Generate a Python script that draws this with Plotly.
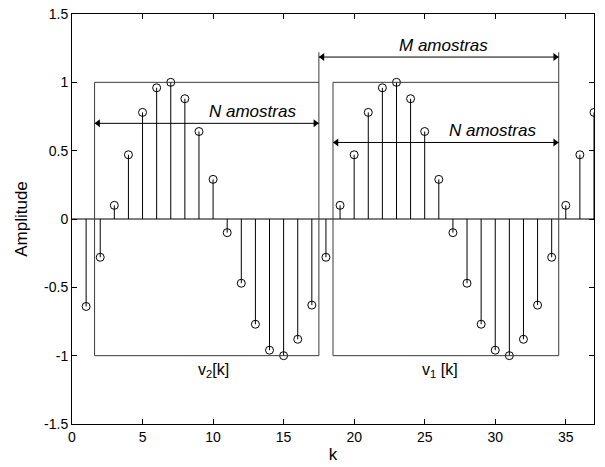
import plotly.graph_objects as go

k = list(range(1, 38))
amplitude = [-0.64, -0.28, 0.10, 0.47, 0.78, 0.96, 1.00, 0.88, 0.64, 0.29,
             -0.10, -0.47, -0.77, -0.96, -1.00, -0.88, -0.63, -0.28, 0.10, 0.47,
             0.78, 0.96, 1.00, 0.88, 0.64, 0.29, -0.10, -0.47, -0.77, -0.96,
             -1.00, -0.88, -0.63, -0.28, 0.10, 0.47, 0.78]
x_ticks = [0, 5, 10, 15, 20, 25, 30, 35]
y_ticks = [-1.5, -1, -0.5, 0, 0.5, 1, 1.5]
y_tick_labels = ["-1.5", "-1", "-0.5", "0", "0.5", "1", "1.5"]

# Window boxes (k ranges)
v2_box = (1.6, 17.5)
v1_box = (18.5, 34.5)

FONT = "Liberation Sans, Arial"

stem_x, stem_y = [], []
for kk, a in zip(k, amplitude):
    stem_x += [kk, kk, None]
    stem_y += [0, a, None]

fig = go.Figure()
fig.add_trace(go.Scatter(x=stem_x, y=stem_y, mode="lines",
                         line=dict(color="black", width=1), hoverinfo="skip"))
fig.add_trace(go.Scatter(x=k, y=amplitude, mode="markers",
                         marker=dict(symbol="circle-open", size=8,
                                     color="black", line=dict(width=1))))

gray = "#3a3a3a"
def seg(x0, x1, y0, y1, color=gray):
    return dict(type="line", x0=x0, x1=x1, y0=y0, y1=y1, line=dict(color=color, width=1))

shapes = [
    seg(0, 37, 0, 0, "black"),
    seg(v2_box[0], v2_box[0], -1, 1),
    seg(v2_box[0], v2_box[1], 1, 1),
    seg(v2_box[0], v2_box[1], -1, -1),
    seg(v2_box[1], v2_box[1], -1, 1.22),
    seg(v1_box[0], v1_box[0], -1, 1),
    seg(v1_box[0], v1_box[1], 1, 1),
    seg(v1_box[0], v1_box[1], -1, -1),
    seg(v1_box[1], v1_box[1], -1, 1.22),
]

# double-headed arrows: line shapes + triangle markers at the ends
arrows = [(v2_box[0], v2_box[1], 0.70), (v1_box[0], v1_box[1], 0.56),
          (v2_box[1], v1_box[1], 1.185)]
hx, hy, hs = [], [], []
for x0, x1, y in arrows:
    shapes.append(seg(x0, x1, y, y, "black"))
    hx += [x0 + 0.25, x1 - 0.25]
    hy += [y, y]
    hs += ["triangle-left", "triangle-right"]
fig.add_trace(go.Scatter(x=hx, y=hy, mode="markers", hoverinfo="skip",
                         marker=dict(symbol=hs, size=7, color="black")))

font_txt = dict(family=FONT, size=17, color="black")
anns = [
    dict(x=12.8, y=0.785, text="<i>N amostras</i>", showarrow=False, font=font_txt),
    dict(x=29.8, y=0.645, text="<i>N amostras</i>", showarrow=False, font=font_txt),
    dict(x=26.3, y=1.27, text="<i>M amostras</i>", showarrow=False, font=font_txt),
    dict(x=10.0, y=-1.11, text="v<sub>2</sub>[k]", showarrow=False,
         font=dict(family=FONT, size=16, color="black")),
    dict(x=26.1, y=-1.11, text="v<sub>1</sub> [k]", showarrow=False,
         font=dict(family=FONT, size=16, color="black")),
]

axis_common = dict(showgrid=False, zeroline=False, showline=True, linecolor="black",
                   linewidth=1, mirror="ticks", ticks="inside", ticklen=5,
                   automargin=False,
                   tickcolor="black", tickfont=dict(family=FONT, size=14, color="black"))

fig.update_layout(
    width=605, height=467,
    margin=dict(l=72, r=11, t=14, b=43),
    paper_bgcolor="white", plot_bgcolor="white",
    showlegend=False,
    shapes=shapes, annotations=anns,
    xaxis=dict(range=[0, 37], tickvals=x_ticks,
               title=dict(text="k", font=dict(family=FONT, size=17, color="black"),
                          standoff=4),
               **axis_common),
    yaxis=dict(range=[-1.5, 1.5], tickvals=y_ticks, ticktext=y_tick_labels,
               title=dict(text="Amplitude", font=dict(family=FONT, size=17, color="black"),
                          standoff=12),
               **axis_common),
)

fig.write_html("out.html")
